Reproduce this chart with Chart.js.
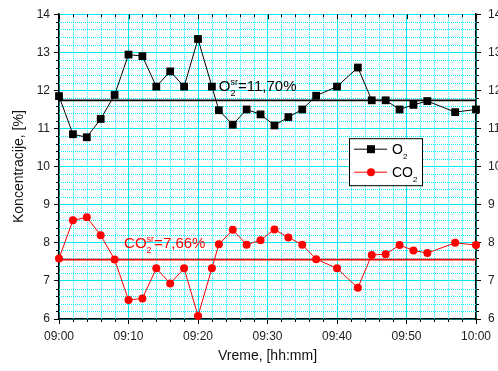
<!DOCTYPE html>
<html>
<head>
<meta charset="utf-8">
<script src="https://cdn.jsdelivr.net/npm/chart.js@4.4.0/dist/chart.umd.min.js"></script>
<style>
  html, body { margin: 0; padding: 0; background: #fff; }
  #chart { display: block; }
</style>
</head>
<body>
<canvas id="chart" width="498" height="371"></canvas>
<script>
"use strict";

// measurement times, minutes after 09:00
const minutes = [0, 2, 4, 6, 8, 10, 12, 14, 16, 18, 20, 22, 23, 25, 27, 29, 31, 33, 35, 37, 40, 43, 45, 47, 49, 51, 53, 57, 60];
const o2 = [11.85, 10.85, 10.77, 11.25, 11.88, 12.94, 12.90, 12.10, 12.50, 12.10, 13.35, 12.10, 11.48, 11.10, 11.50,
            11.37, 11.08, 11.30, 11.50, 11.86, 12.10, 12.60, 11.74, 11.74, 11.50, 11.62, 11.72, 11.43, 11.50];
const co2 = [7.59, 8.59, 8.67, 8.20, 7.56, 6.50, 6.54, 7.33, 6.93, 7.33, 6.08, 7.33, 7.96, 8.34, 7.95,
             8.07, 8.35, 8.14, 7.95, 7.57, 7.33, 6.82, 7.68, 7.70, 7.94, 7.80, 7.73, 8.00, 7.94];
// average lines as drawn
const o2Mean = [11.74];
const co2Mean = [7.56];
const xTickLabels = ['09:00', '09:10', '09:20', '09:30', '09:40', '09:50', '10:00'];
const yTickLabels = ['6', '7', '8', '9', '10', '11', '12', '13', '14'];

const FONT = '"Liberation Sans", Arial, sans-serif';
const CYAN = '#00e8f2';
const CYAN_DOT = '#00f0ff';
const NONE = 'rgba(255,255,255,0)';

const isWhole = v => Math.abs(v - Math.round(v)) < 1e-6;
const isMajorX = v => isWhole(v / 10);
const xLabel = v => (isMajorX(v) ? xTickLabels[Math.round(v / 10)] : '');
const yLabel = v => (isWhole(v) ? yTickLabels[Math.round(v) - 6] : '');

const pts = ys => minutes.map((m, i) => ({ x: m, y: ys[i] }));
const flat = v => [{ x: 0, y: v }, { x: 60, y: v }];

// text like O2^sr=11,70%
function drawChem(ctx, x, y, main, sub, sup, rest, size, color) {
    ctx.fillStyle = color;
    ctx.textAlign = 'left';
    ctx.textBaseline = 'alphabetic';
    ctx.font = size + 'px ' + FONT;
    ctx.fillText(main, x, y);
    x += ctx.measureText(main).width;
    ctx.font = Math.round(size * 0.6) + 'px ' + FONT;
    let w = 0;
    if (sub) {
        ctx.fillText(sub, x, y + size * 0.33);
        w = ctx.measureText(sub).width;
    }
    if (sup) {
        ctx.fillText(sup, x, y - size * 0.4);
        w = Math.max(w, ctx.measureText(sup).width);
    }
    x += w;
    if (rest) {
        ctx.font = size + 'px ' + FONT;
        ctx.fillText(rest, x, y);
    }
}

const extras = {
    id: 'extras',
    beforeDatasetsDraw(chart) {
        const { ctx, chartArea: a, scales: { x, y } } = chart;
        ctx.save();
        // dotted minor grid
        ctx.strokeStyle = CYAN_DOT;
        ctx.lineWidth = 1;
        ctx.setLineDash([1, 1]);
        ctx.beginPath();
        for (let m = 2; m < 60; m += 2) {
            if (m % 10 === 0) continue;
            const px = Math.round(x.getPixelForValue(m)) + 0.5;
            ctx.moveTo(px, a.top);
            ctx.lineTo(px, a.bottom);
        }
        for (let k = 31; k < 70; k++) {
            if (k % 5 === 0) continue;
            const py = Math.round(y.getPixelForValue(k / 5)) + 0.5;
            ctx.moveTo(a.left, py);
            ctx.lineTo(a.right, py);
        }
        ctx.stroke();
        ctx.setLineDash([]);

        // short minor ticks, top ticks point inwards
        ctx.strokeStyle = '#000';
        ctx.beginPath();
        for (let m = 0; m <= 60; m += 2) {
            const px = Math.round(x.getPixelForValue(m)) + 0.5;
            const len = m % 10 === 0 ? 5 : 3;
            ctx.moveTo(px, a.top);
            ctx.lineTo(px, a.top + len);
            if (m % 10 !== 0) {
                ctx.moveTo(px, a.bottom);
                ctx.lineTo(px, a.bottom + 3);
            }
        }
        for (let k = 31; k < 70; k++) {
            if (k % 5 === 0) continue;
            const py = Math.round(y.getPixelForValue(k / 5)) + 0.5;
            ctx.moveTo(a.left, py);
            ctx.lineTo(a.left - 3, py);
            ctx.moveTo(a.right, py);
            ctx.lineTo(a.right + 3, py);
        }
        ctx.stroke();
        ctx.restore();
    },
    afterDraw(chart) {
        const { ctx, chartArea: a, scales: { x, y } } = chart;
        ctx.save();
        drawChem(ctx, x.getPixelForValue(23), y.getPixelForValue(11.98), 'O', '2', 'sr', '=11,70%', 15, '#000');
        drawChem(ctx, x.getPixelForValue(9.37), y.getPixelForValue(7.86), 'CO', '2', 'sr', '=7,66%', 15, '#ff0000');

        // legend
        const lx = a.right - 127, ly = a.top + 124;
        ctx.fillStyle = '#fff';
        ctx.fillRect(lx, ly, 73, 47);
        ctx.strokeStyle = '#000';
        ctx.lineWidth = 1;
        ctx.strokeRect(lx + 0.5, ly + 0.5, 73, 47);

        const rows = [
            { y: ly + 11, color: '#000', name: 'O', style: 'rect' },
            { y: ly + 34, color: '#ff0000', name: 'CO', style: 'circle' }
        ];
        rows.forEach(r => {
            ctx.strokeStyle = r.color;
            ctx.fillStyle = r.color;
            ctx.beginPath();
            ctx.moveTo(lx + 5, r.y);
            ctx.lineTo(lx + 38, r.y);
            ctx.stroke();
            if (r.style === 'rect') {
                ctx.fillRect(lx + 18, r.y - 4, 8, 8);
            } else {
                ctx.beginPath();
                ctx.arc(lx + 22, r.y, 4, 0, Math.PI * 2);
                ctx.fill();
            }
            drawChem(ctx, lx + 43, r.y + 5, r.name, '2', '', '', 14, '#000');
        });
        ctx.restore();
    }
};

new Chart(document.getElementById('chart'), {
    type: 'line',
    data: {
        datasets: [
            {
                label: 'O2',
                data: pts(o2),
                borderColor: '#000',
                backgroundColor: '#000',
                borderWidth: 1,
                pointStyle: 'rect',
                pointRadius: 5.5,
                pointBorderWidth: 0,
                clip: false
            },
            {
                label: 'CO2',
                data: pts(co2),
                borderColor: '#ff0000',
                backgroundColor: '#ff0000',
                borderWidth: 1,
                pointStyle: 'circle',
                pointRadius: 4,
                pointBorderWidth: 0,
                clip: false
            },
            {
                label: 'O2 sr',
                data: flat(o2Mean[0]),
                borderColor: '#000',
                borderWidth: 1.8,
                pointRadius: 0
            },
            {
                label: 'CO2 sr',
                data: flat(co2Mean[0]),
                borderColor: '#ff0000',
                borderWidth: 1.8,
                pointRadius: 0
            }
        ]
    },
    options: {
        responsive: false,
        animation: false,
        layout: { padding: { top: 13, left: 0, right: 0, bottom: 0 } },
        plugins: { legend: { display: false }, tooltip: { enabled: false } },
        scales: {
            x: {
                type: 'linear',
                min: 0,
                max: 60,
                border: { color: '#000', width: 1.5 },
                grid: {
                    color: c => (c.tick && isMajorX(c.tick.value) ? CYAN : NONE),
                    tickColor: c => (c.tick && isMajorX(c.tick.value) ? '#000' : NONE),
                    tickLength: 5
                },
                ticks: {
                    stepSize: 2,
                    autoSkip: false,
                    maxRotation: 0,
                    padding: 5,
                    color: '#222',
                    font: { family: FONT, size: 12 },
                    callback: xLabel
                },
                title: {
                    display: true,
                    text: 'Vreme, [hh:mm]',
                    color: '#111',
                    font: { family: FONT, size: 14 },
                    padding: { top: 0, bottom: 6 }
                },
                afterFit: s => { s.height = 52; }
            },
            y: {
                type: 'linear',
                min: 6,
                max: 14,
                border: { color: '#000', width: 1.5 },
                grid: {
                    color: c => (c.tick && isWhole(c.tick.value) ? CYAN : NONE),
                    tickColor: c => (c.tick && isWhole(c.tick.value) ? '#000' : NONE),
                    tickLength: 5
                },
                ticks: {
                    stepSize: 0.2,
                    autoSkip: false,
                    padding: 4,
                    color: '#222',
                    font: { family: FONT, size: 12 },
                    callback: yLabel
                },
                title: {
                    display: true,
                    text: 'Koncentracije, [%]',
                    color: '#111',
                    font: { family: FONT, size: 14 },
                    padding: { top: 11, bottom: 0 }
                },
                afterFit: s => { s.width = 59; }
            },
            y2: {
                type: 'linear',
                position: 'right',
                min: 6,
                max: 14,
                border: { color: '#000', width: 1.5 },
                grid: {
                    drawOnChartArea: false,
                    tickColor: c => (c.tick && isWhole(c.tick.value) ? '#000' : NONE),
                    tickLength: 5
                },
                ticks: {
                    stepSize: 0.2,
                    autoSkip: false,
                    padding: 7,
                    color: '#222',
                    font: { family: FONT, size: 12 },
                    callback: yLabel
                },
                afterFit: s => { s.width = 22; }
            }
        }
    },
    plugins: [extras]
});
</script>
</body>
</html>
